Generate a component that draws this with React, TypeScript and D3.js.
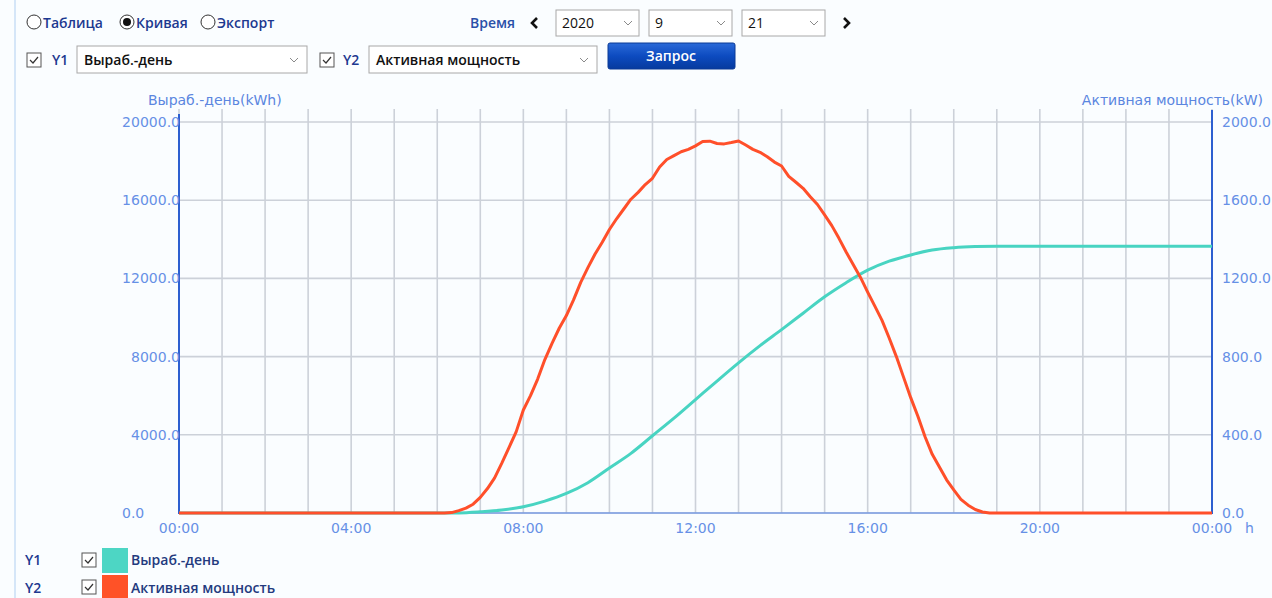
import React from "react";
import * as d3 from "d3";

// ---------- data ----------
const powerTimes = [
  "00:00","06:00","06:10","06:20","06:30","06:40","06:50","07:00","07:10","07:20","07:30","07:40","07:50",
  "08:00","08:10","08:20","08:30","08:40","08:50","09:00","09:10","09:20","09:30","09:40","09:50",
  "10:00","10:10","10:20","10:30","10:40","10:50","11:00","11:10","11:20","11:30","11:40","11:50",
  "12:00","12:10","12:20","12:30","12:40","12:50","13:00","13:10","13:20","13:30","13:40","13:50",
  "14:00","14:10","14:20","14:30","14:40","14:50","15:00","15:10","15:20","15:30","15:40","15:50",
  "16:00","16:10","16:20","16:30","16:40","16:50","17:00","17:10","17:20","17:30","17:40","17:50",
  "18:00","18:10","18:20","18:30","18:40","18:50","19:00","24:00"
];
const powerValues = [
  0,0,0,2,12,25,45,80,125,180,255,335,415,
  527,600,685,785,868,945,1010,1090,1180,1255,1325,1385,
  1450,1505,1555,1605,1640,1680,1712,1770,1808,1828,1848,1860,
  1878,1900,1902,1890,1888,1895,1903,1882,1860,1845,1822,1795,
  1775,1722,1692,1661,1618,1578,1525,1470,1405,1335,1270,1205,
  1130,1058,985,895,800,695,590,495,390,300,235,170,
  118,70,40,18,5,0,0,0
];

const energyTimes = [
  "00:00","06:00","06:30","07:00","07:30","08:00","08:30","09:00","09:30","10:00","10:30","11:00","11:30",
  "12:00","12:30","13:00","13:30","14:00","14:30","15:00","15:30","16:00","16:30","17:00","17:30",
  "18:00","18:30","19:00","24:00"
];
const energyValues = [
  0,0,5,60,150,320,610,1000,1550,2300,3050,3950,4850,
  5800,6750,7680,8560,9380,10220,11060,11780,12420,12880,13200,13450,
  13570,13630,13650,13650
];

const xTicks = ["00:00","04:00","08:00","12:00","16:00","20:00","00:00"];
const yLeftTicks = [0, 4000, 8000, 12000, 16000, 20000];
const yRightTicks = [0, 400, 800, 1200, 1600, 2000];

const toHours = (s: string) => {
  const [h, m] = s.split(":").map(Number);
  return h + m / 60;
};

export default function App() {
  const x = d3.scaleLinear().domain([0, 24]).range([179, 1212]);
  const yL = d3.scaleLinear().domain([0, 20000]).range([513, 122]);
  const yR = d3.scaleLinear().domain([0, 2000]).range([513, 122]);

  const energyLine = d3
    .line<number>()
    .x((_, i) => x(toHours(energyTimes[i])))
    .y((d) => yL(d))
    .curve(d3.curveMonotoneX);
  const powerLine = d3
    .line<number>()
    .x((_, i) => x(toHours(powerTimes[i])))
    .y((d) => yR(d))
    .curve(d3.curveLinear);

  const hours = d3.range(0, 25);
  const axisFont = "'DejaVu Sans', Verdana, sans-serif";
  const uiFont = "'Open Sans', 'Noto Sans', sans-serif";
  const tickColor = "#6690e6";
  const navy = "#1d3990";

  const chevron = (cx: number, cy: number) => (
    <polyline
      points={`${cx - 4},${cy - 2} ${cx},${cy + 2} ${cx + 4},${cy - 2}`}
      fill="none"
      stroke="#8a8a8a"
      strokeWidth={1}
    />
  );
  const checkbox = (x0: number, y0: number) => (
    <g>
      <rect x={x0} y={y0} width={14} height={14} fill="#fff" stroke="#555" strokeWidth={1} />
      <polyline
        points={`${x0 + 3},${y0 + 7} ${x0 + 6},${y0 + 10} ${x0 + 11},${y0 + 4}`}
        fill="none"
        stroke="#333"
        strokeWidth={1.2}
      />
    </g>
  );

  return (
    <svg
      width={1272}
      height={598}
      style={{ position: "absolute", left: 0, top: 0, background: "#fafdff" }}
    >
      <defs>
        <linearGradient id="btn" x1="0" y1="0" x2="0" y2="1">
          <stop offset="0" stopColor="#2a6ad8" />
          <stop offset="0.5" stopColor="#0d4bc0" />
          <stop offset="1" stopColor="#063a9e" />
        </linearGradient>
      </defs>
      <rect x={0} y={0} width={1272} height={598} fill="#fafdff" />
      <line x1={15} y1={0} x2={15} y2={598} stroke="#d5e6f8" strokeWidth={2} />

      {/* radio row */}
      <g fontFamily={uiFont} fontSize={14} fontWeight={600} fill={navy}>
        <circle cx={34} cy={22} r={7} fill="#fff" stroke="#333" strokeWidth={1} />
        <text x={43} y={28}>Таблица</text>
        <circle cx={127} cy={22} r={7} fill="#fff" stroke="#333" strokeWidth={1} />
        <circle cx={127} cy={22} r={4} fill="#111" />
        <text x={136} y={28}>Кривая</text>
        <circle cx={208} cy={22} r={7} fill="#fff" stroke="#333" strokeWidth={1} />
        <text x={217} y={28}>Экспорт</text>
        <text x={470} y={28} fill="#2a50a8">Время</text>
      </g>
      <polyline points="537,18 532,23 537,28" fill="none" stroke="#111" strokeWidth={2.6} />
      <polyline points="844,18 849,23 844,28" fill="none" stroke="#111" strokeWidth={2.6} />
      <g fontFamily={uiFont} fontSize={14} fill="#111">
        <rect x={556} y={10} width={83} height={26} fill="#fff" stroke="#a8a8a8" />
        <text x={562} y={28}>2020</text>
        {chevron(628, 23)}
        <rect x={649} y={10} width={83} height={26} fill="#fff" stroke="#a8a8a8" />
        <text x={655} y={28}>9</text>
        {chevron(721, 23)}
        <rect x={742} y={10} width={83} height={26} fill="#fff" stroke="#a8a8a8" />
        <text x={748} y={28}>21</text>
        {chevron(814, 23)}
      </g>

      {/* Y select row */}
      {checkbox(27, 53)}
      <text x={52} y={65} fontFamily={uiFont} fontSize={14} fontWeight={600} fill={navy}>Y1</text>
      <rect x={77} y={46} width={230} height={27} fill="#fff" stroke="#a8a8a8" />
      <text x={84} y={65} fontFamily={uiFont} fontSize={14} fontWeight={600} fill="#111">Выраб.-день</text>
      {chevron(294, 60)}
      {checkbox(320, 53)}
      <text x={343} y={65} fontFamily={uiFont} fontSize={14} fontWeight={600} fill={navy}>Y2</text>
      <rect x={369} y={46} width={228} height={27} fill="#fff" stroke="#a8a8a8" />
      <text x={376} y={65} fontFamily={uiFont} fontSize={14} fontWeight={600} fill="#111">Активная мощность</text>
      {chevron(584, 60)}
      <rect x={608} y={43} width={127} height={26} rx={2} fill="url(#btn)" stroke="#0a3a96" />
      <text x={671} y={61} textAnchor="middle" fontFamily={uiFont} fontSize={14} fontWeight={600} fill="#fff">Запрос</text>

      {/* grid */}
      <g stroke="#ccd1d9" strokeWidth={1.6}>
        {hours.map((h) => (
          <line key={"v" + h} x1={x(h)} x2={x(h)} y1={109} y2={513} />
        ))}
        {yLeftTicks.map((t) => (
          <line key={"h" + t} x1={x(0)} x2={x(24)} y1={yL(t)} y2={yL(t)} />
        ))}
      </g>

      {/* axes */}
      <line x1={x(0)} x2={x(24)} y1={yL(0)} y2={yL(0)} stroke="#4d7fe6" strokeWidth={1.2} />
      <line x1={x(0)} x2={x(0)} y1={114} y2={514} stroke="#2d5fd0" strokeWidth={2} />
      <line x1={x(24)} x2={x(24)} y1={110} y2={514} stroke="#2d5fd0" strokeWidth={2} />

      <g fontFamily={axisFont} fontSize={14} fill={tickColor}>
        <text x={148} y={105} fill="#5b86e0">Выраб.-день(kWh)</text>
        <text x={1263} y={105} textAnchor="end" fill="#5b86e0">Активная мощность(kW)</text>
        {yLeftTicks.map((t, i) => (
          <text
            key={"l" + t}
            x={i === 0 ? 122 : 180}
            y={yL(t) + 5}
            textAnchor={i === 0 ? "start" : "end"}
          >
            {t.toFixed(1)}
          </text>
        ))}
        {yRightTicks.map((t) => (
          <text key={"r" + t} x={1222} y={yR(t) + 5}>
            {t.toFixed(1)}
          </text>
        ))}
        {xTicks.map((t, i) => (
          <text key={"x" + i} x={x(i * 4)} y={533} textAnchor="middle">
            {t}
          </text>
        ))}
        <text x={1245} y={533}>h</text>
      </g>

      {/* series */}
      <path d={energyLine(energyValues) || ""} fill="none" stroke="#48d4c2" strokeWidth={3} />
      <path d={powerLine(powerValues) || ""} fill="none" stroke="#ff4f2a" strokeWidth={3} strokeLinejoin="round" />

      {/* legend */}
      <g fontFamily={uiFont} fontSize={14} fontWeight={600}>
        <text x={25} y={565} fill={navy}>Y1</text>
        {checkbox(82, 553)}
        <rect x={102} y={548} width={26} height={25} fill="#4dd6c4" />
        <text x={131} y={565} fill="#233a7e">Выраб.-день</text>
        <text x={25} y={593} fill={navy}>Y2</text>
        {checkbox(82, 580)}
        <rect x={102} y={575} width={26} height={25} fill="#ff5227" />
        <text x={131} y={593} fill="#233a7e">Активная мощность</text>
      </g>
    </svg>
  );
}
